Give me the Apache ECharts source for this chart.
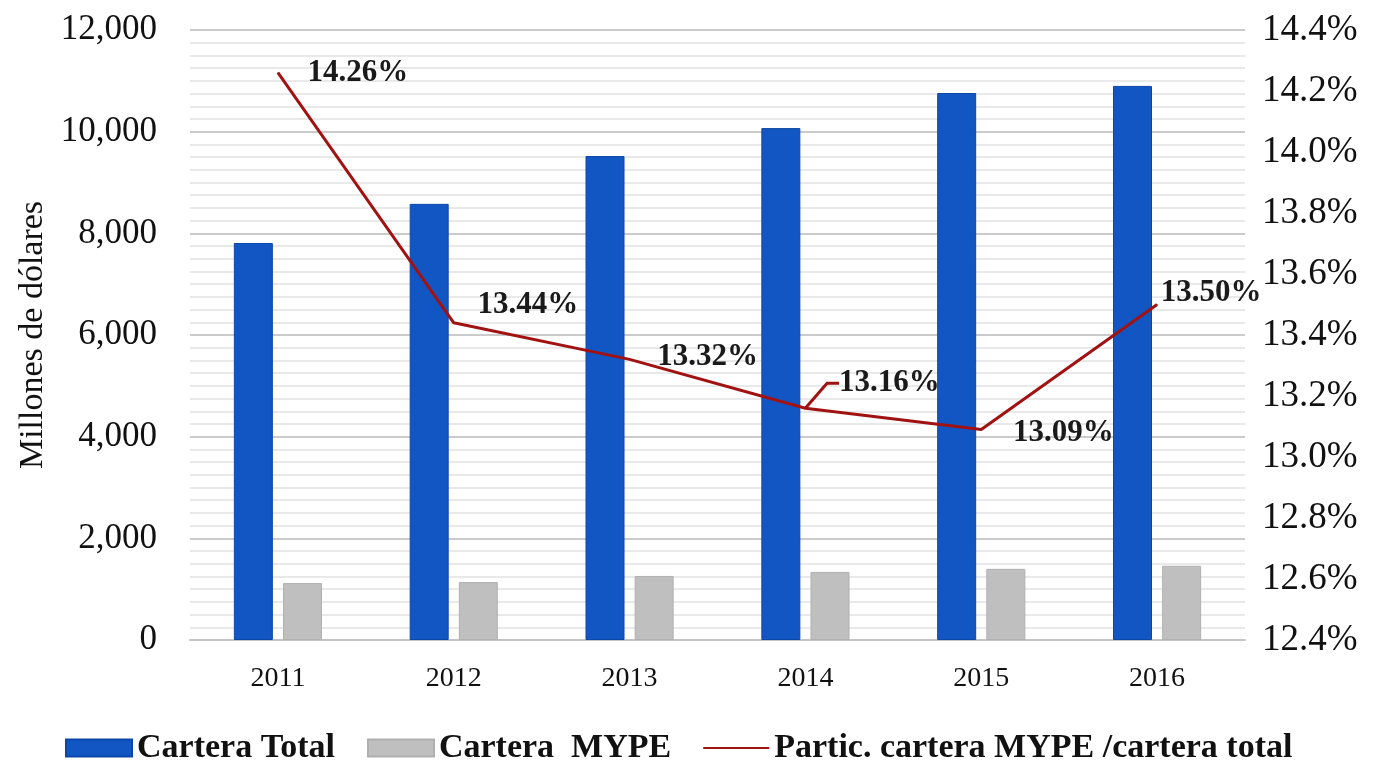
<!DOCTYPE html>
<html>
<head>
    <meta charset="UTF-8">
    <title>Cartera MYPE</title>
    <style>
        html, body { margin: 0; padding: 0; background: #ffffff; }
        #chart { width: 1374px; height: 762px; }
    </style>
    <script src="https://cdn.jsdelivr.net/npm/echarts@6/dist/echarts.min.js"></script>
</head>
<body>
    <div id="chart"></div>
    <script type="text/javascript">
        // datos
        var years = ['2011', '2012', '2013', '2014', '2015', '2016'];
        var carteraTotal = [7810, 8580, 9520, 10070, 10760, 10900];
        var carteraMype = [1120, 1140, 1260, 1340, 1400, 1460];
        var particMype = [14.26, 13.44, 13.32, 13.16, 13.09, 13.50];
        var leftTicks = { min: 0, max: 12000, interval: 2000 };
        var rightTicks = { min: 12.4, max: 14.4, interval: 0.2 };

        // desplazamiento de las etiquetas del porcentaje
        var labelShift = [[80, 0], [74, -18], [78, -2], [84, -25], [82, 3], [54, -12]];

        var serif = '"Liberation Serif", "DejaVu Serif", serif';
        var myChart = echarts.init(document.getElementById('chart'));

        var option = {
            backgroundColor: '#ffffff',
            animation: false,
            grid: { left: 190, right: 129, top: 30, bottom: 122 },
            legend: {
                top: 726,
                left: 60,
                itemGap: 32,
                itemWidth: 66,
                itemHeight: 17,
                textStyle: { fontFamily: serif, fontSize: 34, fontWeight: 'bold', color: '#111' },
                data: [
                    { name: 'Cartera Total', icon: 'rect' },
                    { name: 'Cartera  MYPE', icon: 'rect' },
                    { name: 'Partic. cartera MYPE /cartera total', icon: 'path://M0,0 L60,0 L60,2 L0,2 Z' }
                ]
            },
            xAxis: {
                type: 'category',
                data: years,
                axisLine: { lineStyle: { color: '#c4c4c4', width: 2 } },
                axisTick: { show: false },
                axisLabel: { fontFamily: serif, fontSize: 28, color: '#111', margin: 25 }
            },
            yAxis: [{
                type: 'value',
                min: leftTicks.min,
                max: leftTicks.max,
                interval: leftTicks.interval,
                name: 'Millones de dólares',
                nameLocation: 'middle',
                nameGap: 130,
                nameTextStyle: { fontFamily: serif, fontSize: 34, color: '#111' },
                axisLine: { show: false },
                axisTick: { show: false },
                axisLabel: {
                    fontFamily: serif, fontSize: 35, color: '#111', margin: 33,
                    formatter: function (v) { return v.toLocaleString('en-US'); }
                },
                splitLine: { lineStyle: { color: '#cbcbcb', width: 2 } },
                minorTick: { show: false, splitNumber: 8 },
                minorSplitLine: { show: true, lineStyle: { color: '#e9e9e9', width: 2 } }
            }, {
                type: 'value',
                min: rightTicks.min,
                max: rightTicks.max,
                interval: rightTicks.interval,
                position: 'right',
                axisLine: { show: false },
                axisTick: { show: false },
                splitLine: { show: false },
                axisLabel: {
                    fontFamily: serif, fontSize: 37, color: '#111', margin: 17,
                    formatter: function (v) { return v.toFixed(1) + '%'; }
                }
            }],
            series: [{
                name: 'Cartera Total',
                type: 'bar',
                data: carteraTotal,
                barWidth: 39,
                barGap: '26%',
                itemStyle: { color: '#1156c2', borderColor: '#0c47a8', borderWidth: 1 }
            }, {
                name: 'Cartera  MYPE',
                type: 'bar',
                data: carteraMype,
                barWidth: 39,
                itemStyle: { color: '#bfbfbf', borderColor: '#b0b0b0', borderWidth: 1 }
            }, {
                name: 'Partic. cartera MYPE /cartera total',
                type: 'line',
                yAxisIndex: 1,
                data: particMype.map(function (v, i) {
                    return { value: v, labelLine: { show: i === 3 } };
                }),
                symbol: 'circle',
                symbolSize: 1,
                lineStyle: { color: '#a11212', width: 3 },
                itemStyle: { color: '#a11212' },
                label: {
                    show: true,
                    position: 'inside',
                    fontFamily: serif,
                    fontSize: 31,
                    fontWeight: 'bold',
                    color: '#1a1a1a',
                    formatter: function (p) { return p.value.toFixed(2) + '%'; }
                },
                labelLine: {
                    show: false,
                    length2: 12,
                    lineStyle: { color: '#a11212', width: 3 }
                },
                labelLayout: function (p) {
                    var s = labelShift[p.dataIndex];
                    return { dx: s[0], dy: s[1] };
                }
            }]
        };

        myChart.setOption(option);
    </script>
</body>
</html>
